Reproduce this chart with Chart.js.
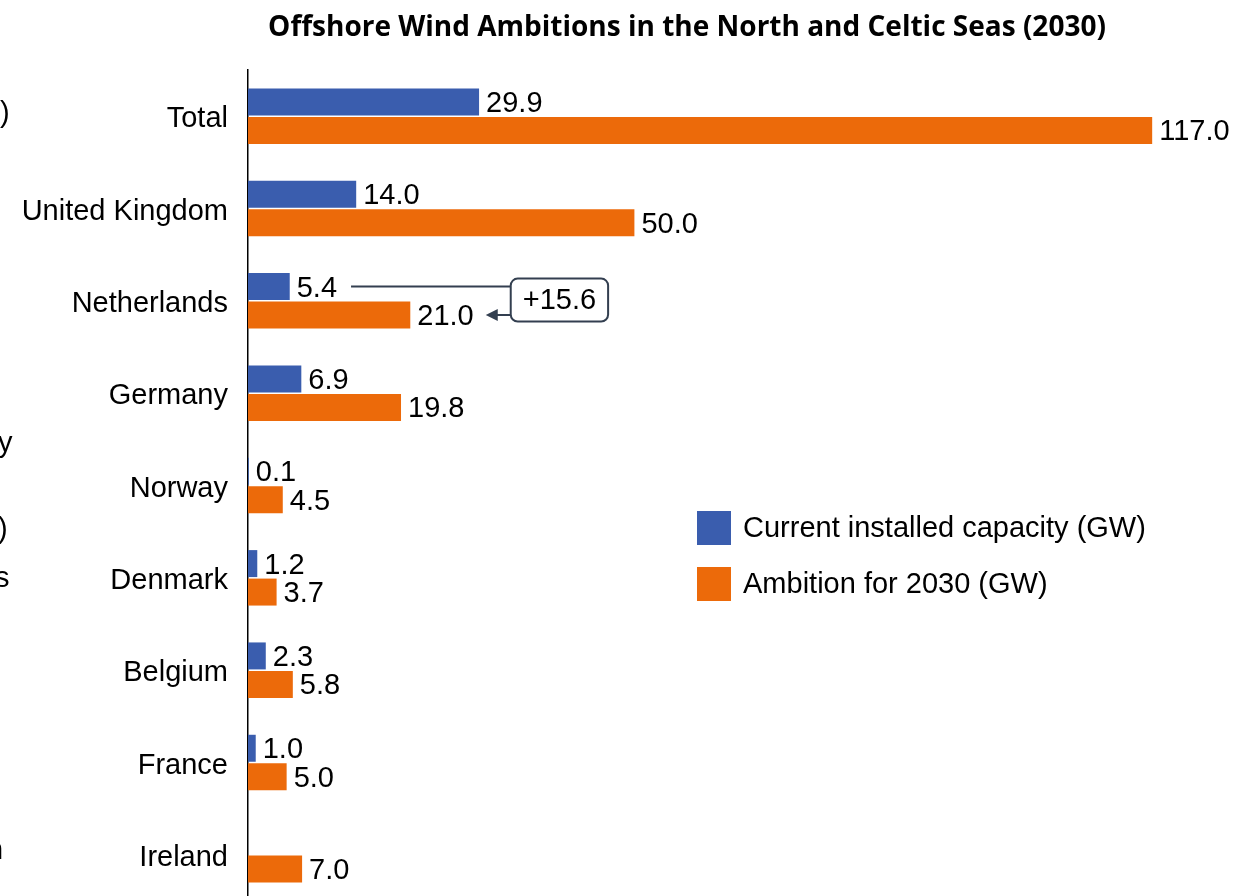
<!DOCTYPE html>
<html>
<head>
<meta charset="utf-8">
<script src="https://cdn.jsdelivr.net/npm/chart.js@4.4.1/dist/chart.umd.min.js"></script>
<style>
  html, body { margin: 0; padding: 0; background: #fff; overflow: hidden; }
  #chart1 { display: block; }
</style>
</head>
<body>
<canvas id="chart1" width="1235" height="905"></canvas>
<script>
// data
var countries = ['Total', 'United Kingdom', 'Netherlands', 'Germany', 'Norway', 'Denmark', 'Belgium', 'France', 'Ireland'];
var current = [29.9, 14.0, 5.4, 6.9, 0.1, 1.2, 2.3, 1.0, null];
var ambition = [117.0, 50.0, 21.0, 19.8, 4.5, 3.7, 5.8, 5.0, 7.0];
var seriesNames = ['Current installed capacity (GW)', 'Ambition for 2030 (GW)'];
var titleText = 'Offshore Wind Ambitions in the North and Celtic Seas (2030)';
var calloutCountry = 'Netherlands';

var BLUE = '#3A5DAE';
var ORANGE = '#EC6A0A';
var DARK = '#333F50';
var FONT = '"Liberation Sans", Arial, sans-serif';
var FS = 29;

// value labels next to each bar
var valueLabels = {
    id: 'valueLabels',
    afterDatasetsDraw(chart) {
        let ctx = chart.ctx;
        ctx.save();
        ctx.font = FS + 'px ' + FONT;
        ctx.fillStyle = '#000';
        ctx.textBaseline = 'middle';
        ctx.textAlign = 'left';
        chart.data.datasets.forEach((ds, i) => {
            chart.getDatasetMeta(i).data.forEach((el, j) => {
                if (ds.data[j] == null) return;
                ctx.fillText(ds.data[j].toFixed(1), el.x + 7, el.y + 2);
            });
        });
        ctx.restore();
    }
};

// +15.6 callout between the two Netherlands bars
var callout = {
    id: 'callout',
    afterDatasetsDraw(chart) {
        let ctx = chart.ctx;
        let idx = countries.indexOf(calloutCountry);
        let b = chart.getDatasetMeta(0).data[idx];
        let o = chart.getDatasetMeta(1).data[idx];
        ctx.save();
        ctx.font = FS + 'px ' + FONT;
        let bEnd = b.x + 7 + ctx.measureText(current[idx].toFixed(1)).width;
        let oEnd = o.x + 7 + ctx.measureText(ambition[idx].toFixed(1)).width;
        let diff = '+' + (ambition[idx] - current[idx]).toFixed(1);
        let tip = oEnd + 12;
        let boxL = tip + 25;
        let boxW = ctx.measureText(diff).width + 24;
        let boxT = b.y - 8, boxH = 43;
        ctx.strokeStyle = DARK;
        ctx.fillStyle = DARK;
        ctx.lineWidth = 2;
        ctx.beginPath();
        ctx.moveTo(bEnd + 14, b.y);
        ctx.lineTo(boxL, b.y);
        ctx.moveTo(boxL, o.y);
        ctx.lineTo(tip + 8, o.y);
        ctx.stroke();
        ctx.beginPath();
        ctx.moveTo(tip, o.y);
        ctx.lineTo(tip + 12, o.y - 6);
        ctx.lineTo(tip + 12, o.y + 6);
        ctx.closePath();
        ctx.fill();
        ctx.beginPath();
        ctx.roundRect(boxL, boxT, boxW, boxH, 7);
        ctx.fillStyle = '#fff';
        ctx.fill();
        ctx.stroke();
        ctx.fillStyle = '#000';
        ctx.textAlign = 'center';
        ctx.textBaseline = 'middle';
        ctx.fillText(diff, boxL + boxW / 2, boxT + boxH / 2 + 1);
        ctx.restore();
    }
};

// title, legend and the clipped text bits at the left edge
var extras = {
    id: 'extras',
    afterDraw(chart) {
        let ctx = chart.ctx;
        ctx.save();
        // title
        let size = 100;
        ctx.font = 'bold ' + size + 'px "Open Sans", sans-serif';
        size = Math.floor(size * 838 / ctx.measureText(titleText).width);
        ctx.font = 'bold ' + size + 'px "Open Sans", sans-serif';
        ctx.fillStyle = '#000';
        ctx.textAlign = 'center';
        ctx.textBaseline = 'middle';
        ctx.fillText(titleText, 687, 28);
        // legend
        ctx.font = FS + 'px ' + FONT;
        ctx.textAlign = 'left';
        chart.data.datasets.forEach((ds, i) => {
            let y = 511 + i * 56;
            ctx.fillStyle = ds.backgroundColor;
            ctx.fillRect(697, y, 34, 34);
            ctx.fillStyle = '#000';
            ctx.fillText(ds.label, 743, y + 18);
        });
        // cut-off text from the left edge
        ctx.textBaseline = 'alphabetic';
        ctx.fillText(')', 0, 122);
        ctx.fillText('y', -2, 452);
        ctx.fillText(')', -2, 538);
        ctx.fillText('s', -5, 587);
        ctx.fillText('n', -13, 859);
        ctx.restore();
    }
};

let chart1 = new Chart('chart1', {
    type: 'bar',
    data: {
        labels: countries,
        datasets: [
            { label: seriesNames[0], data: current, backgroundColor: BLUE },
            { label: seriesNames[1], data: ambition, backgroundColor: ORANGE }
        ]
    },
    options: {
        indexAxis: 'y',
        responsive: false,
        animation: false,
        categoryPercentage: 0.617,
        barPercentage: 0.947,
        layout: { padding: { top: 70, bottom: 4, left: 0, right: 21 } },
        scales: {
            x: { display: false, min: 0, max: 125 },
            y: {
                grid: { display: false, drawTicks: false },
                border: { display: true, color: '#000', width: 1.5 },
                ticks: { color: '#000', padding: 20, labelOffset: 3, font: { size: FS, family: FONT } },
                afterFit: function(scale) {
                    scale.width = 248;
                    scale.paddingTop = 0;
                    scale.paddingBottom = 0;
                }
            }
        },
        plugins: {
            legend: { display: false },
            tooltip: { enabled: false },
            title: { display: false }
        }
    },
    plugins: [valueLabels, callout, extras]
});
</script>
</body>
</html>
